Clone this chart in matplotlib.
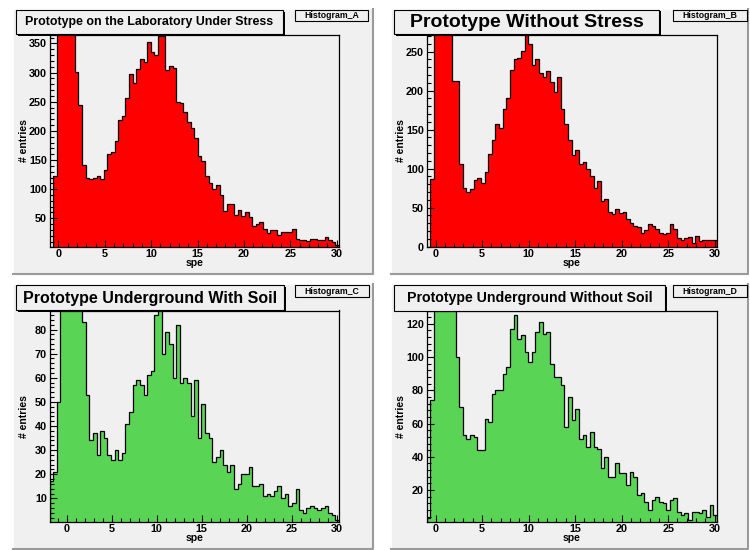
import numpy as np
import matplotlib
matplotlib.use('Agg')
import matplotlib.pyplot as plt
from matplotlib.patches import Rectangle
from matplotlib.ticker import MultipleLocator

plt.rcParams['font.family'] = ['Liberation Sans', 'DejaVu Sans']
plt.rcParams['font.weight'] = 'bold'

W, H = 750, 550

# bin contents (80 bins each);
# the bins around 0-2 spe run off the top of the frame
counts_a = [0, 123, 900, 1400, 1100, 700, 420, 301, 244, 141, 119, 117, 119, 123, 118, 133,
            161, 164, 182, 219, 226, 256, 298, 282, 306, 324, 319, 353, 336, 330, 362, 362,
            305, 312, 308, 250, 248, 232, 215, 205, 188, 157, 148, 122, 111, 100, 107, 90,
            63, 74, 74, 56, 64, 54, 61, 52, 36, 41, 44, 31, 25, 30, 30, 22,
            27, 27, 27, 31, 15, 13, 13, 11, 14, 14, 13, 12, 18, 13, 9, 4]
counts_b = [0, 87, 700, 1000, 900, 600, 400, 213, 213, 106, 75, 70, 74, 86, 88, 82,
            96, 119, 137, 157, 152, 176, 191, 226, 241, 242, 251, 271, 260, 233, 240, 223,
            217, 225, 211, 198, 218, 177, 157, 137, 118, 124, 106, 108, 99, 90, 75, 84,
            58, 61, 44, 42, 48, 43, 45, 36, 31, 27, 25, 17, 22, 29, 26, 23,
            18, 16, 18, 29, 23, 11, 8, 11, 12, 5, 14, 7, 9, 9, 8, 8]
counts_c = [17, 21, 50, 120, 180, 200, 170, 130, 95, 83, 53, 34, 37, 28, 38, 35,
            28, 26, 30, 26, 29, 41, 46, 57, 59, 57, 53, 61, 63, 86, 90, 70,
            79, 74, 60, 82, 58, 60, 58, 44, 59, 35, 49, 37, 35, 25, 27, 30,
            24, 21, 24, 14, 16, 20, 20, 23, 15, 15, 16, 11, 12, 11, 13, 15,
            10, 12, 7, 8, 14, 5, 4, 6, 7, 6, 5, 6, 7, 4, 3, 1]
counts_d = [3, 74, 300, 500, 600, 450, 300, 180, 100, 70, 53, 51, 53, 52, 44, 44,
            63, 61, 78, 80, 80, 90, 94, 117, 125, 111, 113, 103, 97, 103, 115, 121,
            114, 115, 96, 88, 88, 83, 58, 76, 62, 69, 51, 53, 46, 55, 46, 45,
            33, 40, 28, 28, 36, 30, 30, 23, 31, 28, 17, 18, 13, 8, 14, 16,
            13, 12, 8, 14, 15, 7, 5, 6, 2, 7, 7, 6, 8, 4, 11, 5]

# histogram x ranges (low edge, high edge)
xrange_a = [-0.97, 30.25]
xrange_b = [-0.97, 30.25]
xrange_c = [-1.93, 30.26]
xrange_d = [-0.97, 30.25]

titles = ['Prototype on the Laboratory Under Stress', 'Prototype Without Stress',
          'Prototype Underground With Soil', 'Prototype Underground Without Soil']
hist_names = ['Histogram_A', 'Histogram_B', 'Histogram_C', 'Histogram_D']
x_label = 'spe'
y_label = '# entries'

RED = '#ff0000'
GREEN = '#59d454'
PAD = '#f0f0f0'

# layout in pixels: pad, frame, title box, name box (x0, y0, x1, y1)
panels = [
    dict(counts=counts_a, xr=xrange_a, yr=(1.3, 364.5), major=50, minor=10, color=RED,
         title=titles[0], tsize=8.9, name=hist_names[0],
         pad=(13, 9, 373, 274), frame=(49.5, 35, 339, 246.7),
         tbox=(16, 10, 283, 34), sbox=(295, 10, 368, 20.5)),
    dict(counts=counts_b, xr=xrange_b, yr=(0, 271.4), major=50, minor=10, color=RED,
         title=titles[1], tsize=14, name=hist_names[1],
         pad=(391, 9, 748, 274), frame=(426.5, 35, 717, 246.7),
         tbox=(394, 9.5, 659, 34.3), sbox=(673, 9.5, 747, 21)),
    dict(counts=counts_c, xr=xrange_c, yr=(0.33, 87.9), major=10, minor=2, color=GREEN,
         title=titles[2], tsize=11.5, name=hist_names[2],
         pad=(13, 284, 373, 549), frame=(49.5, 310.5, 339, 521.7),
         tbox=(16, 285, 284, 310), sbox=(295, 285, 369, 297)),
    dict(counts=counts_d, xr=xrange_d, yr=(1.0, 128), major=20, minor=4, color=GREEN,
         title=titles[3], tsize=10.2, name=hist_names[3],
         pad=(391, 284, 748, 549), frame=(426.5, 310.5, 717, 521.7),
         tbox=(394, 285, 665, 310.5), sbox=(673, 285, 747, 297)),
]

fig = plt.figure(figsize=(W / 100, H / 100), dpi=100)
fig.patch.set_facecolor('white')

# pixel-space overlays: one behind the frames, one in front
bg = fig.add_axes([0, 0, 1, 1], zorder=-1)
fg = fig.add_axes([0, 0, 1, 1], zorder=10)
for a in (bg, fg):
    a.set_xlim(0, W)
    a.set_ylim(H, 0)
    a.axis('off')


def px_rect(box):
    x0, y0, x1, y1 = box
    return [x0 / W, 1 - y1 / H, (x1 - x0) / W, (y1 - y0) / H]


def draw_box(ax, box, shadow=1.5):
    x0, y0, x1, y1 = box
    ax.add_patch(Rectangle((x0 + shadow, y0 + shadow), x1 - x0, y1 - y0,
                           facecolor='black', edgecolor='none'))
    ax.add_patch(Rectangle((x0, y0), x1 - x0, y1 - y0,
                           facecolor=PAD, edgecolor='black', lw=0.8))


for p in panels:
    # pad with bevelled edge
    x0, y0, x1, y1 = p['pad']
    bg.add_patch(Rectangle((x0, y0), x1 - x0, y1 - y0, facecolor=PAD, edgecolor='none'))
    bg.plot([x0, x0, x1], [y1, y0, y0], color='white', lw=1.2)
    bg.plot([x0, x1, x1], [y1, y1, y0], color='#9a9a9a', lw=1.5)

    ax = fig.add_axes(px_rect(p['frame']))
    ax.set_facecolor(PAD)
    edges = np.linspace(p['xr'][0], p['xr'][1], len(p['counts']) + 1)
    ax.stairs(p['counts'], edges, fill=True, color=p['color'], lw=0)
    ax.stairs(p['counts'], edges, color='black', lw=0.9)
    ax.set_xlim(p['xr'])
    ax.set_ylim(p['yr'])

    ax.xaxis.set_major_locator(MultipleLocator(5))
    ax.xaxis.set_minor_locator(MultipleLocator(1))
    ax.yaxis.set_major_locator(MultipleLocator(p['major']))
    ax.yaxis.set_minor_locator(MultipleLocator(p['minor']))
    ax.tick_params(which='both', direction='in', top=False, right=False, width=0.8,
                   labelsize=7.8)
    ax.tick_params(which='major', length=5)
    ax.tick_params(which='minor', length=2.7)
    ax.tick_params(axis='x', pad=2)
    ax.tick_params(axis='y', pad=1.8)
    for lab in ax.get_xticklabels() + ax.get_yticklabels():
        lab.set_fontweight('bold')
    ax.set_axisbelow(False)
    for s in ax.spines.values():
        s.set_linewidth(0.9)
        s.set_color('black')

    fx0, fy0, fx1, fy1 = p['frame']
    ax.set_xlabel(x_label, fontsize=7.5, fontweight='bold')
    ax.xaxis.set_label_coords(0.5, -16.5 / (fy1 - fy0))
    ax.xaxis.label.set_va('center')
    ax.set_ylabel(y_label, fontsize=7.5, fontweight='bold')
    ax.yaxis.set_label_coords(-25.5 / (fx1 - fx0), 0.5)
    ax.yaxis.label.set_va('center')

    # title box and histogram-name box
    draw_box(fg, p['tbox'])
    tx0, ty0, tx1, ty1 = p['tbox']
    fg.text((tx0 + tx1) / 2, (ty0 + ty1) / 2 + 0.5, p['title'], fontsize=p['tsize'],
            fontweight='bold', ha='center', va='center')
    draw_box(fg, p['sbox'], shadow=1.2)
    sx0, sy0, sx1, sy1 = p['sbox']
    fg.text((sx0 + sx1) / 2, (sy0 + sy1) / 2, p['name'], fontsize=6.3,
            fontweight='bold', ha='center', va='center')

fig.savefig('out.png', dpi=100)
